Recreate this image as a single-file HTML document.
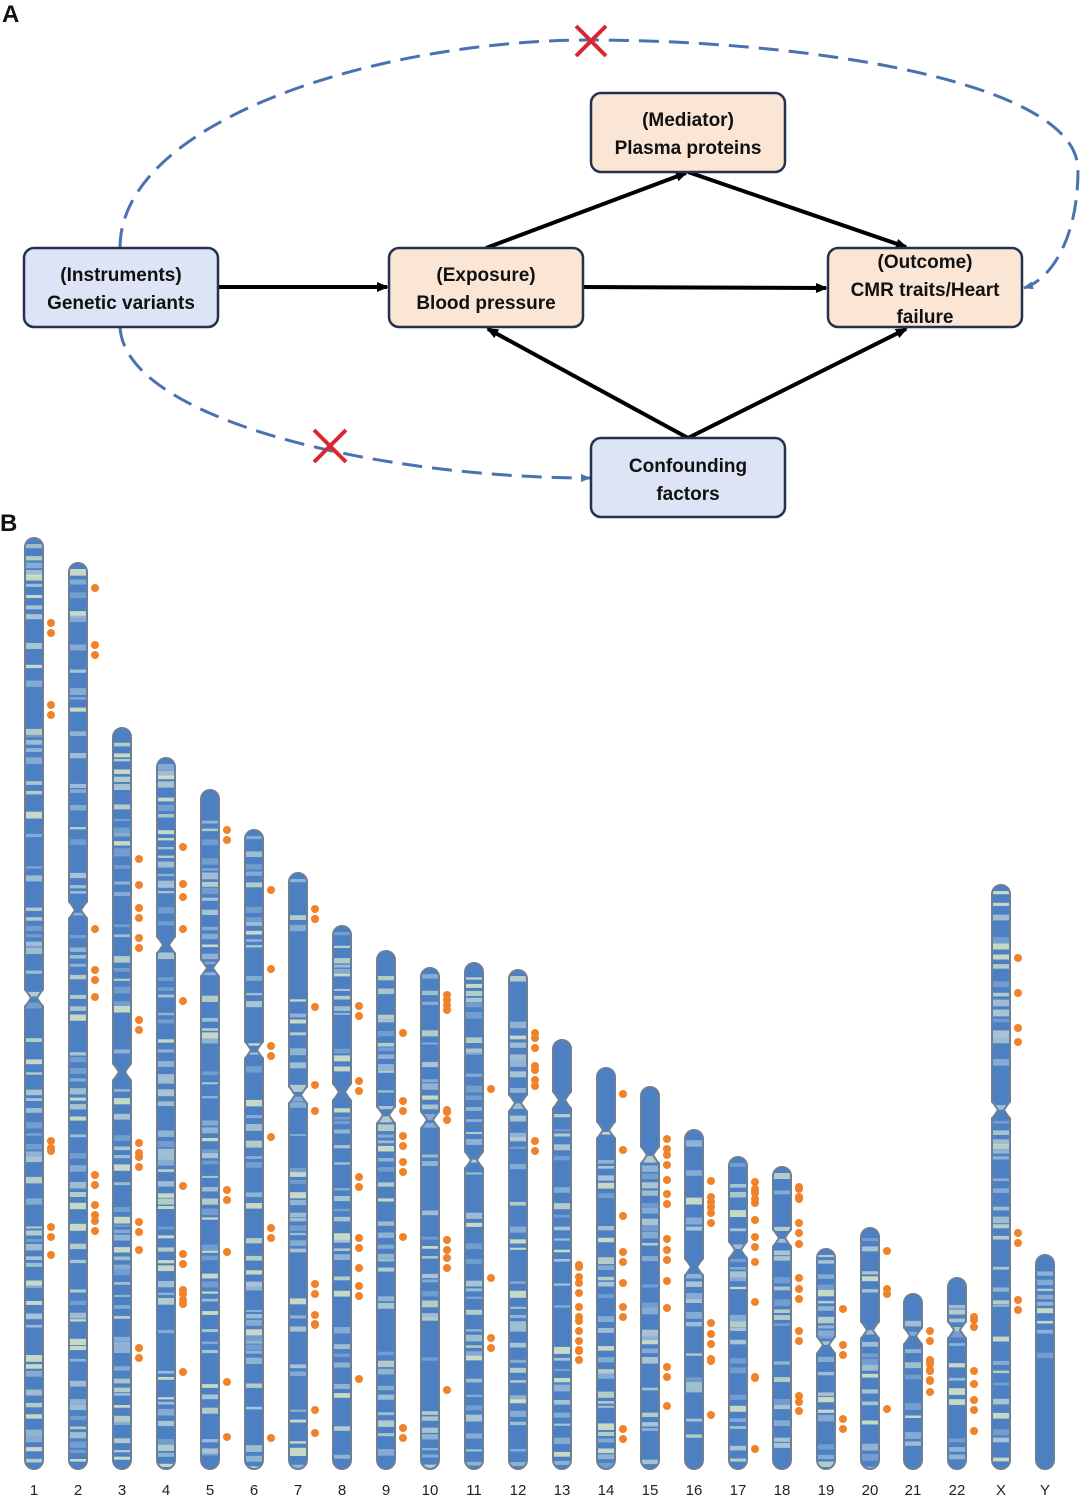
<!DOCTYPE html>
<html><head><meta charset="utf-8"><style>
html,body{margin:0;padding:0;background:#fff;}
body{width:1080px;height:1496px;overflow:hidden;position:relative;font-family:"Liberation Sans",sans-serif;}
</style></head><body>
<svg id="s" width="1080" height="1496" xmlns="http://www.w3.org/2000/svg" style="position:absolute;left:0;top:0">
<defs>
<marker id="ah" markerWidth="12" markerHeight="12" refX="10" refY="6" orient="auto" markerUnits="userSpaceOnUse"><path d="M0,1 L12,6 L0,11 z" fill="#000"/></marker>
<marker id="ab" markerWidth="10" markerHeight="10" refX="9" refY="5" orient="auto" markerUnits="userSpaceOnUse"><path d="M0,1 L10,5 L0,9 z" fill="#4a72b0"/></marker>
</defs>
<text x="2" y="22" font-size="24" font-weight="bold" fill="#111">A</text>
<text x="0" y="531" font-size="24" font-weight="bold" fill="#111">B</text>
<path d="M120,248 C120,120 380,40 590,40 C800,40 1078,80 1078,170 C1078,240 1050,280 1024,288" fill="none" stroke="#4a72b0" stroke-width="3" stroke-dasharray="20,10" marker-end="url(#ab)"/>
<path d="M120,327 C125,420 380,478 590,478" fill="none" stroke="#4a72b0" stroke-width="3" stroke-dasharray="20,10" marker-end="url(#ab)"/>
<g stroke="#d9262f" stroke-width="4"><line x1="576" y1="26" x2="606" y2="56"/><line x1="606" y1="26" x2="576" y2="56"/>
<line x1="314" y1="430" x2="346" y2="462"/><line x1="346" y1="430" x2="314" y2="462"/></g>
<g stroke="#000" stroke-width="4" fill="none">
<line x1="218" y1="287" x2="387" y2="287" marker-end="url(#ah)"/>
<line x1="583" y1="287" x2="826" y2="288" marker-end="url(#ah)"/>
<line x1="486" y1="248" x2="686" y2="173" marker-end="url(#ah)"/>
<line x1="688" y1="172" x2="906" y2="247" marker-end="url(#ah)"/>
<line x1="688" y1="438" x2="488" y2="329" marker-end="url(#ah)"/>
<line x1="688" y1="438" x2="906" y2="329" marker-end="url(#ah)"/>
</g>
<g stroke="#25324f" stroke-width="2.5">
<rect x="24" y="248" width="194" height="79" rx="10" fill="#dde4f6"/>
<rect x="389" y="248" width="194" height="79" rx="10" fill="#fbe5d4"/>
<rect x="591" y="93" width="194" height="79" rx="10" fill="#fbe5d4"/>
<rect x="828" y="248" width="194" height="79" rx="10" fill="#fbe5d4"/>
<rect x="591" y="438" width="194" height="79" rx="10" fill="#dde4f6"/>
</g>
<g font-size="19" font-weight="bold" fill="#111" text-anchor="middle">
<text x="121" y="281">(Instruments)</text><text x="121" y="309">Genetic variants</text>
<text x="486" y="281">(Exposure)</text><text x="486" y="309">Blood pressure</text>
<text x="688" y="126">(Mediator)</text><text x="688" y="154">Plasma proteins</text>
<text x="925" y="268">(Outcome)</text><text x="925" y="296">CMR traits/Heart</text><text x="925" y="323">failure</text>
<text x="688" y="472">Confounding</text><text x="688" y="500">factors</text>
</g>
<g id="chr"></g>
</svg>
<script>
var xs=[34,78,122,166,210,254,298,342,386,430,474,518,562,606,650,694,738,782,826,870,913,957,1001,1045];
var tops=[538,563,728,758,790,830,873,926,951,968,963,970,1040,1068,1087,1130,1157,1167,1249,1228,1294,1278,885,1255];
var cen=[998,910,1072,945,968,1050,1095,1092,1115,1120,1160,1103,1100,1130,1155,1267,1250,1238,1345,1330,1336,1330,1110,0];
var labels=["1","2","3","4","5","6","7","8","9","10","11","12","13","14","15","16","17","18","19","20","21","22","X","Y"];
var bot=1469,w=18,seed=11;
function r(){seed=(seed*16807)%2147483647;return (seed-1)/2147483646;}
var g=document.getElementById('chr'),h='';
var cols=['#8fb2d6','#9dbcd6','#adc8d2','#c5d9c8','#dde8c6','#7aa2d0','#b8cfd4'];
for(var i=0;i<24;i++){
 var x=xs[i]-w/2,t=tops[i],c=cen[i];
 h+='<clipPath id="c'+i+'"><rect x="'+x+'" y="'+t+'" width="'+w+'" height="'+(bot-t)+'" rx="9"/></clipPath>';
 h+='<g clip-path="url(#c'+i+')"><rect x="'+x+'" y="'+t+'" width="'+w+'" height="'+(bot-t)+'" fill="#4d7fc3"/>';
 for(var y=t+6;y<bot;y+=4+r()*9){
  if((i==12||i==13||i==14)&&y<c) continue;
  if(i==23&&y>1355)continue;
  if(r()<0.6){var hh=2+r()*5;h+='<rect x="'+x+'" y="'+y.toFixed(1)+'" width="'+w+'" height="'+hh.toFixed(1)+'" fill="'+cols[Math.floor(r()*cols.length)]+'" opacity="0.85"/>';}
 }
 h+='</g><rect x="'+x+'" y="'+t+'" width="'+w+'" height="'+(bot-t)+'" rx="9" fill="none" stroke="#6b7f96" stroke-width="2"/>';
 if(c){h+='<path d="M'+(x-2)+','+(c-9)+' L'+(xs[i]-3)+','+c+' L'+(x-2)+','+(c+9)+' z M'+(x+w+2)+','+(c-9)+' L'+(xs[i]+3)+','+c+' L'+(x+w+2)+','+(c+9)+' z" fill="#fff"/>';
  h+='<path d="M'+(x)+','+(c-9)+' L'+(xs[i]-3)+','+c+' L'+(x)+','+(c+9)+' M'+(x+w)+','+(c-9)+' L'+(xs[i]+3)+','+c+' L'+(x+w)+','+(c+9)+'" fill="none" stroke="#6b7f96" stroke-width="2"/>';}
 h+='<text x="'+xs[i]+'" y="1495" font-size="15" text-anchor="middle" fill="#222">'+labels[i]+'</text>';
 var n=i==23?0:Math.floor(3+r()*8);
 for(var k=0;k<n;k++){var dy=t+20+r()*(bot-t-40);h+='<circle cx="'+(xs[i]+17)+'" cy="'+dy.toFixed(0)+'" r="4" fill="#f0822a"/>';if(r()<0.5)h+='<circle cx="'+(xs[i]+17)+'" cy="'+(dy+10).toFixed(0)+'" r="4" fill="#f0822a"/>';}
}
g.innerHTML=h;
</script>
</body></html>
